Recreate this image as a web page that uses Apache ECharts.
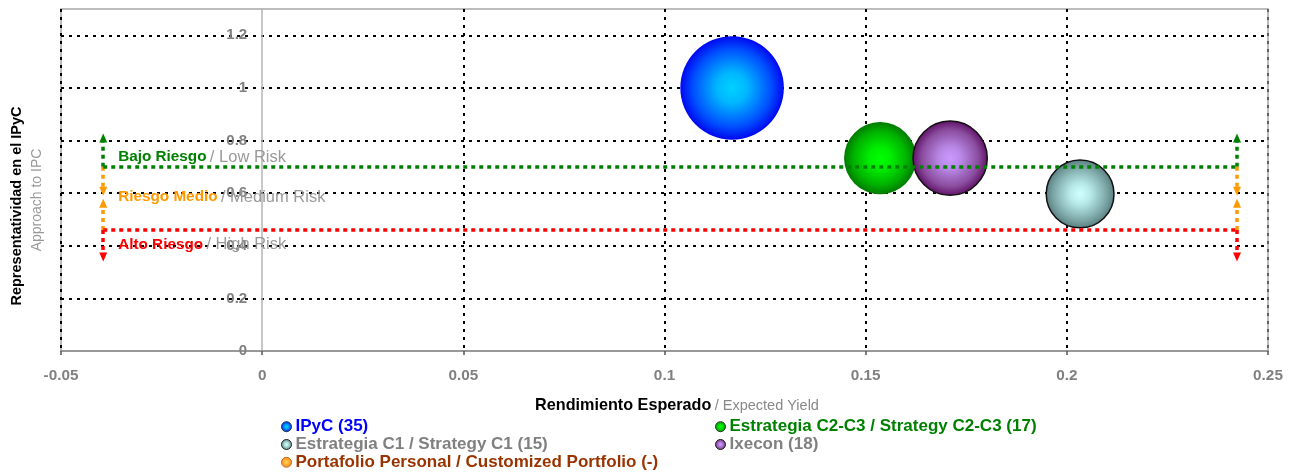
<!DOCTYPE html>
<html>
<head>
<meta charset="utf-8">
<script src="https://cdn.jsdelivr.net/npm/echarts@6/dist/echarts.min.js"></script>
<style>
  html, body { margin: 0; padding: 0; background: #ffffff; }
  #chart { width: 1297px; height: 472px; }
</style>
</head>
<body>
<div id="chart"></div>
<script>
// Portfolios: expected yield vs. representativeness in the IPyC, bubble = number of holdings
const seriesNames = ['IPyC', 'Estrategia C1 / Strategy C1', 'Estrategia C2-C3 / Strategy C2-C3', 'Ixecon'];
const expectedYield = [0.1168, 0.2033, 0.1536, 0.1710];
const ipcApproach = [1.00, 0.597, 0.733, 0.733];
const holdings = [35, 15, 17, 18];

// Customized portfolio: listed in the legend, no position yet
const customName = 'Portafolio Personal / Customized Portfolio';
const customHoldings = '-';

// Axis ticks
const xTicks = [-0.05, 0, 0.05, 0.1, 0.15, 0.2, 0.25];
const yTicks = [0, 0.2, 0.4, 0.6, 0.8, 1, 1.2];
const yTop = 1.3;

// Risk bands (representativeness thresholds)
const lowRiskFloor = 0.70;
const highRiskCeiling = 0.46;
const riskBandX = [-0.0395, 0.2423];
const lowArrowTop = 0.81;
const mediumArrowDown = 0.607;
const mediumArrowUp = 0.562;
const highArrowBottom = 0.357;

const riskLabels = ['Bajo Riesgo', 'Riesgo Medio', 'Alto Riesgo'];
const riskLabelsEn = ['Low Risk', 'Medium Risk', 'High Risk'];
const riskLabelY = [0.737, 0.585, 0.405];
const riskLabelX = -0.0358;

// ---- styling ----
const FONT = '"Liberation Sans", Arial, Helvetica, sans-serif';
const GRAY = '#808080';
const Y_LABEL_GAP = 15;

function radial(stops) {
  return {
    type: 'radial', x: 0.5, y: 0.5, r: 0.5,
    colorStops: stops.map(function (c) { return { offset: c[0], color: c[1] }; })
  };
}

const bubbleStyles = {
  'IPyC': { color: radial([[0, '#00d2ff'], [0.3, '#00b6ff'], [0.75, '#0050ff'], [1, '#0008f0']]), borderWidth: 0, legendBorder: '#333', text: '#0000ff' },
  'Estrategia C1 / Strategy C1': { color: radial([[0, '#d2ffff'], [0.3, '#b8eaea'], [0.75, '#7fa9a9'], [1, '#587e7e']]), borderWidth: 1.5, legendBorder: '#222', text: GRAY },
  'Estrategia C2-C3 / Strategy C2-C3': { color: radial([[0, '#00ff00'], [0.3, '#00ee00'], [0.75, '#00b000'], [1, '#007a00']]), borderWidth: 0, legendBorder: '#333', text: '#008000' },
  'Ixecon': { color: radial([[0, '#cc99ff'], [0.3, '#b888e6'], [0.75, '#8a4c9e'], [1, '#5e0f64']]), borderWidth: 1.5, legendBorder: '#222', text: GRAY }
};
const customStyle = { color: radial([[0, '#ffcc33'], [0.5, '#ff9900'], [1, '#ff6600']]), legendBorder: '#bb5500', text: '#993300' };

const countByName = {};
seriesNames.forEach(function (n, i) { countByName[n] = holdings[i]; });
countByName[customName] = customHoldings;

// Split line colours per tick: hidden where an axis line or the frame already sits
const xSplitColors = xTicks.map(function (t, i) {
  if (t === 0) return 'rgba(0,0,0,0)';
  if (i === xTicks.length - 1) return '#666666';
  return '#000000';
});
const ySplitColors = yTicks.map(function (t) { return t === 0 ? 'rgba(0,0,0,0)' : '#000000'; });
ySplitColors.push('rgba(0,0,0,0)'); // frame top

const chart = echarts.init(document.getElementById('chart'), null, { renderer: 'canvas' });

const bubbleSeries = seriesNames.map(function (name, i) {
  const st = bubbleStyles[name];
  return {
    type: 'scatter',
    name: name,
    z: 3,
    data: [[expectedYield[i], ipcApproach[i], holdings[i]]],
    symbolSize: function (v) { return Math.sqrt(v[2]) * 17.5; },
    itemStyle: { color: st.color, borderColor: '#111', borderWidth: st.borderWidth, opacity: 1 },
    emphasis: { disabled: true }
  };
});

const customSeries = {
  type: 'scatter', name: customName, data: [],
  itemStyle: { color: customStyle.color }
};

function dotted(color) {
  return { color: color, width: 3.5, type: [4, 4], opacity: 1 };
}
function seg(x, y0, y1, color) {
  return [
    { coord: [x, y0], symbol: 'none', lineStyle: dotted(color) },
    { coord: [x, y1], symbol: 'triangle', symbolSize: [8, 9] }
  ];
}
function hline(y, color) {
  return [
    { coord: [riskBandX[0], y], symbol: 'none', lineStyle: dotted(color) },
    { coord: [riskBandX[1], y], symbol: 'none' }
  ];
}

const riskColors = ['#008000', '#ff9900', '#ff0000'];
const riskLineData = [];
riskBandX.forEach(function (x) {
  riskLineData.push(seg(x, lowRiskFloor, lowArrowTop, riskColors[0]));
  riskLineData.push(seg(x, lowRiskFloor, mediumArrowDown, riskColors[1]));
  riskLineData.push(seg(x, highRiskCeiling, mediumArrowUp, riskColors[1]));
  riskLineData.push(seg(x, highRiskCeiling, highArrowBottom, riskColors[2]));
});
riskLineData.push(hline(lowRiskFloor, riskColors[0]));
riskLineData.push(hline(highRiskCeiling, riskColors[2]));

const riskSeries = {
  type: 'scatter',
  name: 'risk-bands',
  data: [],
  z: 6,
  silent: true,
  markLine: {
    silent: true,
    animation: false,
    label: { show: false },
    emphasis: { disabled: true },
    data: riskLineData
  },
  markPoint: {
    silent: true,
    animation: false,
    symbol: 'circle',
    symbolSize: 0,
    data: riskLabels.map(function (lab, i) {
      return {
        coord: [riskLabelX, riskLabelY[i]],
        itemStyle: { color: 'rgba(0,0,0,0)' },
        label: {
          show: true,
          position: 'right',
          distance: 0,
          formatter: '{a|' + lab + '} {b|/ ' + riskLabelsEn[i] + '}',
          rich: {
            a: { fontFamily: FONT, fontSize: 15.3, fontWeight: 'bold', color: riskColors[i] },
            b: { fontFamily: FONT, fontSize: 16.5, color: '#9a9a9a' }
          }
        }
      };
    })
  }
};

function legendItems(names) {
  return names.map(function (n) {
    const st = bubbleStyles[n] || customStyle;
    return {
      name: n,
      icon: 'circle',
      itemStyle: { borderColor: st.legendBorder, borderWidth: 1 },
      textStyle: { color: st.text }
    };
  });
}
const legendCommon = {
  orient: 'vertical',
  itemWidth: 10,
  itemHeight: 10,
  itemGap: 0,
  selectedMode: false,
  padding: 0,
  formatter: function (name) { return name + ' (' + countByName[name] + ')'; },
  textStyle: { fontFamily: FONT, fontSize: 17, fontWeight: 'bold', lineHeight: 17.8, padding: [0, 0, 0, -1] }
};

const option = {
  animation: false,
  backgroundColor: '#ffffff',
  grid: {
    left: 61, right: 29, top: 9, bottom: 121,
    show: true, borderColor: '#a6a6a6', borderWidth: 1.5, backgroundColor: 'transparent'
  },
  xAxis: {
    type: 'value',
    min: xTicks[0],
    max: xTicks[xTicks.length - 1],
    interval: 0.05,
    name: '{a|Rendimiento Esperado} {b|/ Expected Yield}',
    nameLocation: 'middle',
    nameGap: 47,
    nameTextStyle: {
      padding: [0, 0, 0, 25],
      rich: {
        a: { fontFamily: FONT, fontSize: 16.2, fontWeight: 'bold', color: '#000' },
        b: { fontFamily: FONT, fontSize: 14.5, color: '#888' }
      }
    },
    axisLine: { show: true, onZero: false, lineStyle: { color: '#8c8c8c', width: 1.5 } },
    axisTick: { show: true, length: 4, lineStyle: { color: '#555', width: 1.5 } },
    axisLabel: {
      margin: 17,
      fontFamily: FONT, fontSize: 15.3, fontWeight: 'bold', color: GRAY,
      formatter: function (v) { return String(+v.toFixed(2)); }
    },
    splitLine: { show: true, lineStyle: { color: xSplitColors, width: 2, type: [3, 5] } }
  },
  yAxis: {
    type: 'value',
    min: 0,
    max: yTop,
    interval: 0.2,
    axisLine: { show: true, onZero: true, lineStyle: { color: '#b4b4b4', width: 1.5 } },
    axisTick: { show: false },
    axisLabel: {
      margin: Y_LABEL_GAP,
      showMaxLabel: false,
      fontFamily: FONT, fontSize: 15, fontWeight: 'bold', color: GRAY,
      formatter: function (v) { return String(+v.toFixed(1)); }
    },
    splitLine: { show: true, lineStyle: { color: ySplitColors, width: 2, type: [3, 5] } }
  },
  legend: [
    Object.assign({}, legendCommon, {
      left: 281, top: 417.8,
      data: legendItems([seriesNames[0], seriesNames[1], customName])
    }),
    Object.assign({}, legendCommon, {
      left: 715, top: 417.8,
      data: legendItems([seriesNames[2], seriesNames[3]])
    })
  ],
  graphic: [
    {
      type: 'text', x: 17, y: 206, rotation: Math.PI / 2, silent: true,
      style: {
        text: 'Representatividad en el IPyC', fill: '#000',
        font: 'bold 14.5px ' + FONT, textAlign: 'center', textVerticalAlign: 'middle'
      }
    },
    {
      type: 'text', x: 37, y: 200, rotation: Math.PI / 2, silent: true,
      style: {
        text: 'Approach to IPC', fill: '#999',
        font: '14px ' + FONT, textAlign: 'center', textVerticalAlign: 'middle'
      }
    }
  ],
  series: bubbleSeries.concat([customSeries, riskSeries])
};

chart.setOption(option);

// Value labels of the y axis sit beside the axis line drawn at x = 0
const zeroPx = chart.convertToPixel({ xAxisIndex: 0 }, 0);
const leftPx = chart.convertToPixel({ xAxisIndex: 0 }, xTicks[0]);
chart.setOption({ yAxis: { axisLabel: { margin: Y_LABEL_GAP - (zeroPx - leftPx) } } });
</script>
</body>
</html>
